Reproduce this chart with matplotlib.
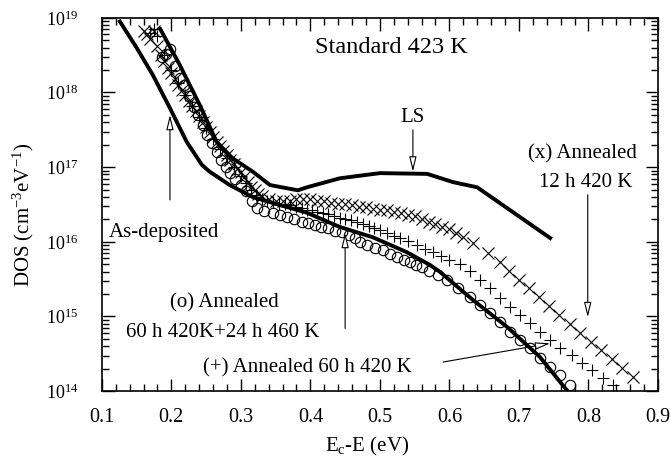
import numpy as np
import matplotlib
matplotlib.use('Agg')
import matplotlib.pyplot as plt
from matplotlib.ticker import LogLocator, MultipleLocator, NullFormatter

plt.rcParams['font.family'] = ['Liberation Serif', 'DejaVu Serif']
plt.rcParams['mathtext.fontset'] = 'custom'
plt.rcParams['mathtext.rm'] = 'Liberation Serif'
plt.rcParams['mathtext.it'] = 'Liberation Serif:italic'

# energy below the conduction band (eV) and log10 of the DOS (cm^-3 eV^-1)
asdep_e = [0.126, 0.150, 0.173, 0.198, 0.222, 0.244, 0.255, 0.284, 0.317, 0.346,
           0.395, 0.442, 0.490, 0.539, 0.572, 0.586, 0.634, 0.683, 0.730, 0.770]
asdep_log = [18.95, 18.60, 18.24, 17.79, 17.34, 17.03, 16.94, 16.76, 16.60, 16.52,
             16.39, 16.20, 16.06, 15.86, 15.69, 15.60, 15.22, 14.86, 14.46, 14.00]

ls_e = [0.184, 0.212, 0.241, 0.265, 0.288, 0.317, 0.342, 0.382, 0.395, 0.442,
        0.500, 0.568, 0.605, 0.640, 0.745]
ls_log = [18.85, 18.37, 17.83, 17.34, 17.12, 16.94, 16.76, 16.69, 16.73, 16.85,
          16.92, 16.91, 16.80, 16.73, 16.05]

# (x) annealed 12 h 420 K
ann12_e = [0.160, 0.165, 0.170, 0.175, 0.180, 0.185, 0.190, 0.195, 0.200, 0.205,
           0.210, 0.215, 0.220, 0.225, 0.230, 0.235, 0.240, 0.245, 0.250, 0.255,
           0.260, 0.265, 0.270, 0.275, 0.280, 0.285, 0.290, 0.295, 0.300, 0.305,
           0.310, 0.315, 0.320, 0.325, 0.330, 0.340, 0.350, 0.360, 0.370, 0.380,
           0.390, 0.400, 0.410, 0.420, 0.430, 0.440, 0.450, 0.460, 0.470, 0.480,
           0.490, 0.500, 0.510, 0.520, 0.530, 0.540, 0.550, 0.560, 0.570, 0.580,
           0.590, 0.600, 0.610, 0.620, 0.634, 0.655, 0.673, 0.686, 0.700, 0.714,
           0.729, 0.743, 0.757, 0.773, 0.788, 0.804, 0.818, 0.834, 0.848, 0.864]
ann12_log = [18.82, 18.78, 18.72, 18.82, 18.62, 18.50, 18.42, 18.33, 18.26, 18.18,
             18.10, 18.03, 17.97, 17.89, 17.82, 17.75, 17.68, 17.61, 17.54, 17.47,
             17.40, 17.34, 17.28, 17.22, 17.16, 17.10, 17.04, 16.98, 16.93, 16.87,
             16.80, 16.74, 16.69, 16.64, 16.61, 16.57, 16.55, 16.54, 16.55, 16.57,
             16.58, 16.57, 16.55, 16.54, 16.52, 16.51, 16.50, 16.49, 16.47, 16.46,
             16.44, 16.43, 16.42, 16.40, 16.38, 16.36, 16.34, 16.31, 16.27, 16.24,
             16.20, 16.17, 16.12, 16.07, 15.98, 15.85, 15.73, 15.61, 15.49, 15.38,
             15.26, 15.14, 15.02, 14.90, 14.78, 14.66, 14.55, 14.43, 14.31, 14.19]

# (+) annealed 60 h 420 K
ann60_e = [0.170, 0.175, 0.180, 0.190, 0.200, 0.210, 0.220, 0.230, 0.240, 0.250,
           0.260, 0.270, 0.280, 0.290, 0.300, 0.308, 0.315, 0.322, 0.330, 0.338,
           0.346, 0.355, 0.363, 0.371, 0.380, 0.388, 0.395, 0.403, 0.410, 0.418,
           0.426, 0.434, 0.442, 0.450, 0.458, 0.467, 0.475, 0.484, 0.492, 0.500,
           0.510, 0.520, 0.529, 0.540, 0.553, 0.565, 0.576, 0.588, 0.600, 0.615,
           0.630, 0.644, 0.658, 0.673, 0.687, 0.701, 0.716, 0.730, 0.745, 0.759,
           0.776, 0.791, 0.805, 0.821, 0.835]
ann60_log = [18.80, 18.85, 18.75, 18.50, 18.30, 18.13, 17.97, 17.82, 17.67, 17.52,
             17.38, 17.24, 17.12, 17.00, 16.88, 16.79, 16.70, 16.63, 16.58, 16.55,
             16.53, 16.51, 16.50, 16.49, 16.46, 16.45, 16.43, 16.42, 16.40, 16.39,
             16.37, 16.34, 16.32, 16.30, 16.29, 16.27, 16.24, 16.21, 16.19, 16.16,
             16.12, 16.08, 16.05, 16.01, 15.96, 15.91, 15.86, 15.81, 15.76, 15.70,
             15.61, 15.49, 15.38, 15.25, 15.13, 15.02, 14.91, 14.79, 14.68, 14.58,
             14.48, 14.38, 14.28, 14.17, 14.08]

# (o) annealed 60 h 420 K + 24 h 460 K
ann84_e = [0.186, 0.192, 0.198, 0.205, 0.212, 0.218, 0.225, 0.232, 0.238, 0.245,
           0.252, 0.258, 0.265, 0.272, 0.278, 0.285, 0.292, 0.300, 0.308, 0.316,
           0.323, 0.334, 0.346, 0.356, 0.366, 0.377, 0.388, 0.397, 0.406, 0.415,
           0.425, 0.435, 0.445, 0.455, 0.464, 0.472, 0.481, 0.493, 0.504, 0.514,
           0.524, 0.534, 0.543, 0.552, 0.560, 0.571, 0.583, 0.596, 0.612, 0.629,
           0.644, 0.658, 0.673, 0.687, 0.701, 0.716, 0.730, 0.745, 0.759, 0.773]
ann84_log = [18.47, 18.52, 18.58, 18.35, 18.20, 18.10, 17.95, 17.80, 17.70, 17.57,
             17.43, 17.32, 17.20, 17.09, 17.00, 16.92, 16.84, 16.76, 16.68, 16.55,
             16.45, 16.41, 16.39, 16.36, 16.33, 16.30, 16.27, 16.25, 16.23, 16.20,
             16.18, 16.15, 16.13, 16.09, 16.05, 16.00, 15.96, 15.92, 15.89, 15.84,
             15.80, 15.76, 15.73, 15.69, 15.66, 15.61, 15.56, 15.49, 15.38, 15.26,
             15.15, 15.05, 14.92, 14.79, 14.68, 14.58, 14.44, 14.32, 14.21, 14.08]

fig = plt.figure(figsize=(6.7, 4.69), dpi=100)
ax = fig.add_axes([0.152, 0.166, 0.830, 0.796])

ax.plot(asdep_e, 10 ** np.array(asdep_log), 'k-', lw=2.8, solid_joinstyle='round')
ax.plot(ls_e, 10 ** np.array(ls_log), 'k-', lw=2.8, solid_joinstyle='round')
ax.plot(ann12_e, 10 ** np.array(ann12_log), 'kx', ms=8, mew=0.8, ls='none')
ax.plot(ann60_e, 10 ** np.array(ann60_log), 'k+', ms=9, mew=0.8, ls='none')
ax.plot(ann84_e, 10 ** np.array(ann84_log), 'ko', ms=7.5, mew=0.8, mfc='none', ls='none')

ax.set_yscale('log')
ax.set_xlim(0.1, 0.9)
ax.set_ylim(1e14, 1e19)
ax.xaxis.set_major_locator(MultipleLocator(0.1))
ax.xaxis.set_minor_locator(MultipleLocator(0.02))
ax.yaxis.set_major_locator(LogLocator(base=10, numticks=10))
ax.yaxis.set_minor_locator(LogLocator(base=10, subs=np.arange(2, 10), numticks=20))
ax.yaxis.set_minor_formatter(NullFormatter())
ax.tick_params(which='both', direction='in', top=True, right=True, width=1)
ax.tick_params(which='major', length=9)
ax.tick_params(which='minor', length=5)
ax.tick_params(axis='x', which='major', labelsize=14.5, pad=12)
ax.tick_params(axis='y', which='major', labelsize=13, pad=17)
for s in ax.spines.values():
    s.set_linewidth(1.2)

ax.set_xlabel(r'E$_{\rm c}$-E (eV)', fontsize=15)
ax.set_ylabel(r'DOS (cm$^{-3}$eV$^{-1}$)', fontsize=15)
ax.xaxis.set_label_coords(0.477, -0.118)
ax.yaxis.set_label_coords(-0.118, 0.472)

ax.text(0.517, 10 ** 18.6, 'Standard 423 K', fontsize=17.5, ha='center', va='center')

arr = dict(arrowstyle='-|>,head_width=0.22,head_length=0.9', fc='white', ec='k', lw=0.8,
           shrinkA=0, shrinkB=0)
fs = 15
ax.text(0.5475, 10 ** 17.67, 'LS', fontsize=fs, ha='center', va='center')
ax.annotate('', xy=(0.5475, 10 ** 16.94), xytext=(0.5475, 10 ** 17.5), arrowprops=arr)

ax.text(0.19, 10 ** 16.13, 'As-deposited', fontsize=fs, ha='center', va='center')
ax.annotate('', xy=(0.198, 10 ** 17.70), xytext=(0.198, 10 ** 16.56), arrowprops=arr)

ax.text(0.792, 10 ** 17.18, '(x) Annealed', fontsize=fs, ha='center', va='center')
ax.text(0.796, 10 ** 16.80, '12 h 420 K', fontsize=fs, ha='center', va='center')
ax.annotate('', xy=(0.799, 10 ** 14.99), xytext=(0.799, 10 ** 16.63), arrowprops=arr)

ax.text(0.2756, 10 ** 15.18, '(o) Annealed', fontsize=fs, ha='center', va='center')
ax.text(0.274, 10 ** 14.79, '60 h 420K+24 h 460 K', fontsize=fs, ha='center', va='center')
ax.annotate('', xy=(0.45, 10 ** 16.12), xytext=(0.45, 10 ** 14.84), arrowprops=arr)

ax.text(0.396, 10 ** 14.31, '(+) Annealed 60 h 420 K', fontsize=fs, ha='center', va='center')
ax.annotate('', xy=(0.745, 10 ** 14.64), xytext=(0.591, 10 ** 14.39), arrowprops=arr)

fig.savefig('out.png', dpi=100)
